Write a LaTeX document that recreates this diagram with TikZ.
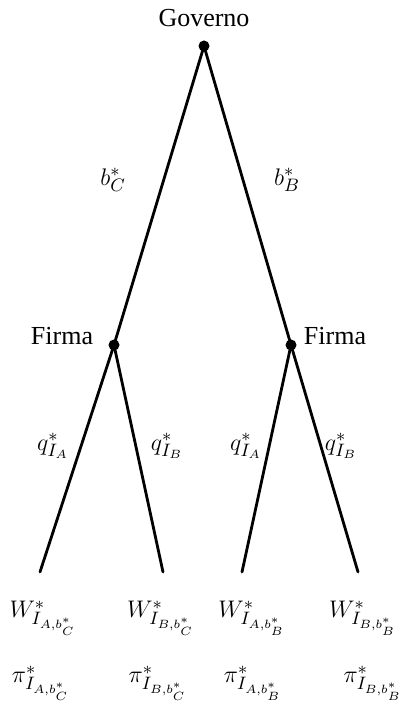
\documentclass[tikz,border=0pt]{standalone}
\usepackage{fontspec}
\setmainfont{Liberation Serif}
\usetikzlibrary{positioning}
\tikzset{
  dot/.style={circle,fill=black,inner sep=0pt,minimum size=5.5pt},
  branch/.style={line width=1.4pt,line cap=round},
  lbl/.style={font=\fontsize{13}{15}\selectfont,inner sep=1pt},
}

\begin{document}
\begin{tikzpicture}[x=0.5pt,y=-0.5pt]
    \useasboundingbox (0,0) rectangle (404,704);
    % decision nodes
    \node[dot] (gov) at (204,46) {};
    \node[dot] (fL)  at (114,345) {};
    \node[dot] (fR)  at (291,345) {};
    \coordinate (e1) at (40,572);
    \coordinate (e2) at (163,572);
    \coordinate (e3) at (242,572);
    \coordinate (e4) at (358,572);
    \draw[branch] (gov.center) -- (fL.center);
    \draw[branch] (gov.center) -- (fR.center);
    \draw[branch] (fL.center) -- (e1);
    \draw[branch] (fL.center) -- (e2);
    \draw[branch] (fR.center) -- (e3);
    \draw[branch] (fR.center) -- (e4);
    % players
    \node[lbl] (tgov) at (204,18) {Governo};
    \node[lbl] (tfL)  at (62,336) {Firma};
    \node[lbl] (tfR)  at (335,336) {Firma};
    % actions
    \node[lbl] (bC) at (113,180) {$b_C^*$};
    \node[lbl] (bB) at (287,180) {$b_B^*$};
    \node[lbl] (q1) at (53,446) {$q_{I_A}^*$};
    \node[lbl] (q2) at (167,446) {$q_{I_B}^*$};
    \node[lbl] (q3) at (246,446) {$q_{I_A}^*$};
    \node[lbl] (q4) at (341,446) {$q_{I_B}^*$};
    % payoffs
    \node[lbl] (w1) at (43,618)  {$W_{I_{A,b_C^*}}^*$};
    \node[lbl] (w2) at (161,618) {$W_{I_{B,b_C^*}}^*$};
    \node[lbl] (w3) at (252,618) {$W_{I_{A,b_B^*}}^*$};
    \node[lbl] (w4) at (363,618) {$W_{I_{B,b_B^*}}^*$};
    \node[lbl] (p1) at (41,683)  {$\pi_{I_{A,b_C^*}}^*$};
    \node[lbl] (p2) at (158,683) {$\pi_{I_{B,b_C^*}}^*$};
    \node[lbl] (p3) at (253,683) {$\pi_{I_{A,b_B^*}}^*$};
    \node[lbl] (p4) at (373,683) {$\pi_{I_{B,b_B^*}}^*$};
\end{tikzpicture}
\end{document}
